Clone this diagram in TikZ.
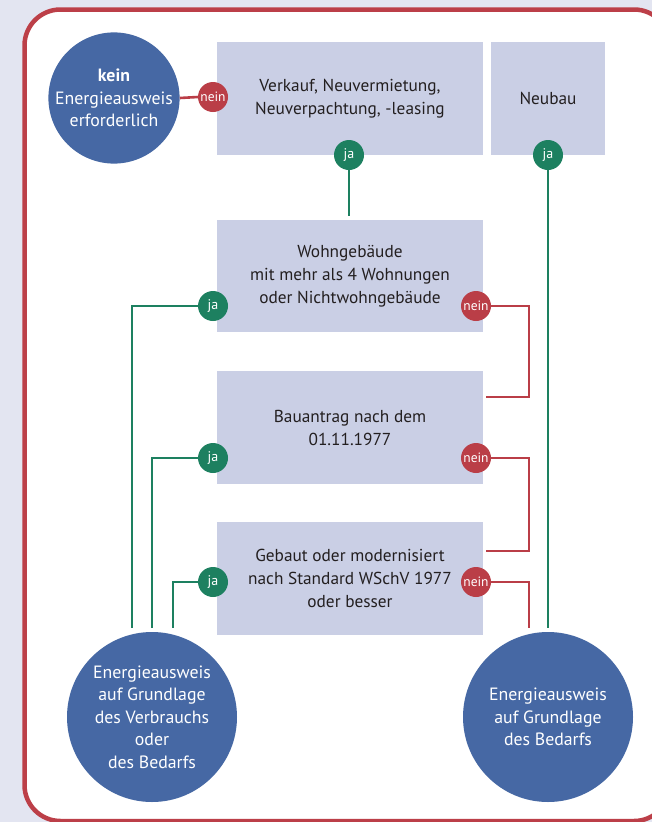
\documentclass[tikz,border=0pt]{standalone}
\usepackage{fontspec}
\setmainfont{PT Sans}
\definecolor{bgcol}{HTML}{E3E5F1}
\definecolor{framecol}{HTML}{BC3F48}
\definecolor{boxfill}{HTML}{CACFE5}
\definecolor{circblue}{HTML}{4668A4}
\definecolor{jagreen}{HTML}{1D8060}
\definecolor{neinred}{HTML}{BA3E47}
\definecolor{txt}{HTML}{231F20}
\begin{document}
\begin{tikzpicture}[x=1pt,y=-1pt,
  qbox/.style={fill=boxfill, inner sep=0pt, align=center, text=txt,
    font=\fontsize{17.3}{23}\selectfont, minimum height=113pt},
  result/.style={circle, fill=circblue, inner sep=0pt, align=center, text=white,
    font=\fontsize{17.8}{22.5}\selectfont},
  jadot/.style={circle, fill=jagreen, minimum size=30pt, inner sep=0pt, text=white,
    font=\fontsize{14}{14}\selectfont},
  neindot/.style={circle, fill=neinred, minimum size=30pt, inner sep=0pt, text=white,
    font=\fontsize{13.5}{14}\selectfont},
  yesline/.style={draw=jagreen, line width=2.6pt},
  noline/.style={draw=neinred, line width=2.6pt}]
\useasboundingbox (0,0) rectangle (652,822);
\clip (0,0) rectangle (652,822);
\fill[bgcol] (0,0) rectangle (652,822);
\draw[framecol, line width=4.5pt, fill=white, rounded corners=36pt] (24.5,9.5) rectangle (670,821);

% question boxes
\node[qbox, minimum width=266pt] (b1) at (350,98.5) {Verkauf, Neuvermietung,\\Neuverpachtung, -leasing};
\node[qbox, minimum width=114pt] (nb) at (548,98.5) {Neubau};
\node[qbox, minimum width=266pt, minimum height=112pt] (b2) at (350,276) {Wohngebäude\\mit mehr als 4 Wohnungen\\oder Nichtwohngebäude};
\node[qbox, minimum width=266pt] (b3) at (350,427.5) {Bauantrag nach dem\\01.11.1977};
\node[qbox, minimum width=266pt] (b4) at (350,578.5) {Gebaut oder modernisiert\\nach Standard WSchV 1977\\oder besser};

% result circles
\node[result, minimum size=131pt] (kein) at (114,98) {\textbf{kein}\\Energieausweis\\erforderlich};
\node[result, minimum size=170pt] (resL) at (152,717) {Energieausweis\\auf Grundlage\\des Verbrauchs\\oder\\des Bedarfs};
\node[result, minimum size=170pt] (resR) at (548,717) {Energieausweis\\auf Grundlage\\des Bedarfs};

% answer dots
\node[neindot] (n1) at (213,97) {nein};
\node[jadot] (j1) at (349,155) {ja};
\node[jadot] (j2) at (548,155) {ja};
\node[jadot] (j3) at (213,306) {ja};
\node[neindot] (n3) at (476,306) {nein};
\node[jadot] (j4) at (213,458) {ja};
\node[neindot] (n4) at (476,458) {nein};
\node[jadot] (j5) at (213,582) {ja};
\node[neindot] (n5) at (476,582) {nein};

% connector end points
\coordinate (e1) at (349,216);
\coordinate (gL1) at (132,628);
\coordinate (gL2) at (152,628);
\coordinate (gL3) at (173,628);
\coordinate (gR) at (548,628);
\coordinate (r3a) at (529,397);
\coordinate (r3b) at (486,397);
\coordinate (r4a) at (529,551);
\coordinate (r4b) at (486,551);
\coordinate (r5) at (529,628);

% connectors
\draw[noline] (kein.east) -- (n1.west);
\draw[yesline] (j1.south) -- (e1);
\draw[yesline] (j2.south) -- (gR);
\draw[yesline] (j3.west) -| (gL1);
\draw[yesline] (j4.west) -| (gL2);
\draw[yesline] (j5.west) -| (gL3);
\draw[noline] (n3.east) -| (r3a) -- (r3b);
\draw[noline] (n4.east) -| (r4a) -- (r4b);
\draw[noline] (n5.east) -| (r5);
\end{tikzpicture}
\end{document}
